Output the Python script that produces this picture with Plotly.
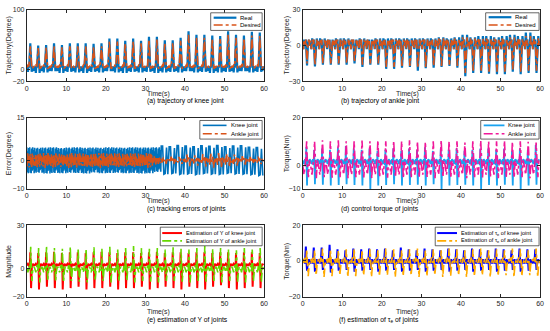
import plotly.graph_objects as go

W, H = 550, 331
N_CYC = 30
cycle_start = [2 * k for k in range(N_CYC)]

# ---------------- (a) knee trajectory ----------------
knee_real_peak = [44, 40, 41, 44, 41, 44, 44, 44, 43, 44, 52, 52, 48, 52, 48,
                  55, 55, 49, 49, 53, 64, 58, 58, 57, 56, 64, 58, 57, 63, 62]
knee_des_peak = [39, 36, 37, 39, 37, 39, 39, 39, 38, 39, 47, 47, 44, 47, 44,
                 50, 50, 45, 45, 48, 58, 53, 53, 52, 51, 58, 53, 52, 57, 56]
knee_real_low = [-4, -6, -5, -3, -6, -4, -5, -6, -4, -5, -3, -5, -6, -4, -5,
                 -4, -6, -5, -4, -5, -3, -5, -4, -6, -5, -4, -5, -3, -5, -4]
knee_real_phase = [0.0, 0.15, 0.3, 0.45, 0.6, 0.9, 1.25, 1.4, 1.55, 1.7, 1.85]
knee_real_shape = [-2, 5, 'L', 6, 3, 'P', 'L', 4, -3, 5, 0]
knee_des_phase = [0.0, 0.3, 0.55, 0.9, 1.3, 1.6, 1.85]
knee_des_shape = [3, 7, 5, 'P', 1, 4, 5]

# ---------------- (b) ankle trajectory ----------------
ankle_real_spike = [-16.7, -17.5, -16, -16, -16, -16, -15, -18, -16, -16,
                    -19.5, -19.5, -18.6, -18, -21, -19, -18.6, -18, -17, -18.6,
                    -25.8, -23, -23, -23.6, -24, -24, -22, -24, -23, -23]
ankle_des_spike = [-15, -16, -15, -15, -15, -15, -14, -16, -15, -15,
                   -18, -18, -17, -17, -19, -18, -17, -17, -16, -17,
                   -23, -21, -21, -22, -22, -22, -20, -22, -21, -21]
ankle_real_top = [5, 6, 6, 5, 6, 6, 5, 6, 5, 6, 6, 6, 6, 6, 6,
                  6, 6, 7, 6, 7, 9, 7, 8, 8, 7, 8, 9, 8, 11, 8]
ankle_des_top = [5, 5, 5, 5, 5, 5, 5, 5, 5, 5, 5, 5, 5, 5, 5,
                 5, 5, 6, 5, 6, 7, 6, 6, 6, 6, 6, 7, 6, 8, 6]
ankle_phase = [0.0, 0.2, 0.4, 0.6, 0.8, 1.1, 1.35, 1.55, 1.75, 1.9]
ankle_shape = [3, -3, 'T', 1, 5, 'S', 2, 'T', 0, 4]

# ---------------- (c) tracking errors ----------------
err_knee_hi = [4.6, 4.4, 4.5, 4.6, 4.3, 4.5, 4.6, 4.4, 4.5, 4.4, 4.6, 4.5, 4.4, 4.6, 4.5,
               4.5, 4.6, 5.0, 4.8, 5.2, 5.0, 4.8, 5.1, 4.9, 5.2, 4.8, 5.0, 5.1, 4.6, 4.5]
err_knee_lo = [-4.5, -4.3, -4.6, -4.4, -4.5, -4.3, -4.4, -4.6, -4.2, -4.5, -4.4, -4.3, -4.5, -4.4, -4.6,
               -4.5, -4.0, -4.8, -4.6, -4.9, -4.7, -5.0, -4.6, -4.8, -4.9, -4.5, -4.7, -4.8, -5.0, -5.3]
err_knee_pat_dense = [1.0, -0.9, 0.7, -1.0, 0.95, -0.6, 1.0, -0.95, 0.5, -1.0, 0.9, -0.8, 1.0, -0.7, 0.8, -1.0]
err_knee_pat_sparse = [1.0, 1.0, -1.0, -0.95, 0.9, -1.0]
err_ankle_amp = [2.5, 2.4, 2.6, 2.5, 2.3, 2.6, 2.5, 2.4, 2.5, 2.6, 2.4, 2.5, 2.3, 2.5, 2.4,
                 2.6, 1.4, 1.2, 1.3, 1.2, 2.0, 1.8, 2.2, 2.5, 2.6, 2.4, 2.0, 1.5, 1.2, 1.3]
err_ankle_pat_dense = [0.3, -0.8, 1.0, -0.4, 0.6, -1.0, 0.2, 0.9, -0.6, 0.5, -0.9, 1.0, -0.3, 0.7, -0.7, 0.4]
err_ankle_pat_sparse = [0.3, -0.6, 1.0, -0.2, 0.5, -1.0, 0.4, -0.3]

# ---------------- (d) control torque ----------------
tq_knee_up = [7.5, 6.5, 7, 6.5, 7.5, 8, 7, 6.5, 7, 6, 6.5, 7, 6, 7, 6.5,
              7.5, 6, 7, 6.5, 7, 6, 6.5, 7, 7, 6.5, 7, 6, 7, 6.5, 8.5]
tq_knee_dn = [-8.5, -8, -8.2, -8.5, -8.3, -8, -8.3, -8.5, -10, -8.5, -8.3, -8, -8.5, -8.3, -8.2,
              -8.5, -8, -10, -8.5, -8.3, -8.2, -8.5, -10, -8.3, -8.5, -8.2, -8.5, -10, -8.5, -8.2]
tq_ankle_up = [10, 10, 10.5, 10, 10.5, 10, 10, 10.3, 10, 10.5, 10, 10.2, 10, 10.5, 10,
               9.8, 10, 10.5, 10, 10, 9.5, 10, 10.3, 10, 10, 10.2, 9.8, 10, 9.8, 9.5]
tq_ankle_dn = [-5, -5.5, -5, -5.3, -5, -5.5, -5, -5.2, -5.5, -5, -5.3, -5, -5.5, -5, -5.2,
               -5, -5.5, -5, -5.3, -5, -5.5, -5, -5.2, -5, -5.5, -5, -5.3, -5, -5.5, -5]
tq_knee_phase = [0.0, 0.3, 0.6, 0.8, 0.9, 1.0, 1.1, 1.25, 1.5, 1.75]
tq_knee_shape = [2, 0.5, 2.5, 0, 'U', -1, 'D', 2, 1, 2.5]
tq_ankle_phase = [0.0, 0.35, 0.7, 0.85, 1.0, 1.2, 1.45, 1.7]
tq_ankle_shape = [0, -4, 1, 4, 'U', 0, 'D', 2]

# ---------------- (e) estimation of Y ----------------
y_knee_up = [11, 10.5, 11, 11.5, 10.5, 11, 11, 10.5, 11, 11.5, 11, 10.5, 11, 11, 10.5,
             11, 11.5, 10.5, 11, 11, 10.5, 11, 11, 10.5, 11, 11, 10.5, 11, 11, 10.5]
y_knee_dn = [-14, -15, -13, -14, -15, -14, -13, -15, -14, -14, -13, -15, -14, -14, -13,
             -15, -14, -13, -14, -15, -13, -14, -15, -13, -12, -14, -15, -14, -13, -14]
y_ankle_up = [15, 14, 15.5, 14, 13.5, 15, 14, 13.5, 14.5, 13.5, 15, 13, 14, 15.5, 14,
              13.5, 14, 13, 14.5, 13.5, 13, 14, 15.5, 13.5, 14, 13, 12.5, 14, 13, 14]
y_ankle_dn = [-9, -10, -9, -9.5, -10, -9, -9.5, -10, -9, -9, -10, -9.5, -9, -10, -9,
              -9.5, -10, -9, -9, -9.5, -10, -9, -9.5, -9, -10, -9, -9.5, -10, -9, -9.5]
y_knee_phase = [0.0, 0.3, 0.6, 0.8, 0.9, 1.0, 1.1, 1.3, 1.55, 1.8]
y_knee_shape = [2, 3, 1.5, 2, 'U', 0, 'D', 1, 3, 2]
y_ankle_phase = [0.0, 0.3, 0.6, 0.85, 1.0, 1.15, 1.3, 1.5, 1.75]
y_ankle_shape = [0, -3, 2, -2, 'U', 2, 'D', -2, 1]

# ---------------- (f) estimation of tau_e ----------------
te_knee_up = [8, 7.5, 7.5, 9, 6.5, 6, 7, 6.5, 7, 6.5, 7, 6, 7.5, 6.5, 6,
              7, 6.5, 6, 7, 6.5, 6, 7, 6.5, 6, 7, 6.5, 6, 7, 6.5, 6.5]
te_knee_dn = [-5.5, -6, -5, -6.5, -5.5, -5, -6, -5.5, -5, -6, -5.5, -5, -6, -5.5, -5,
              -6, -5.5, -5, -6, -5.5, -5, -6, -5.5, -5, -6, -5.5, -5, -6, -5.5, -5]
te_ankle_up = [6.5, 6, 7, 6.5, 6, 6.5, 7, 6, 6.5, 6, 7, 6.5, 6, 6.5, 7,
               6, 6.5, 6, 7, 6.5, 6, 6.5, 7, 6, 6.5, 6, 7, 6.5, 6, 7]
te_ankle_dn = [-8.5, -8, -9, -8.5, -8, -9, -8.5, -8, -9, -8.5, -8, -9, -8.5, -8, -9,
               -8.5, -8, -9, -8.5, -8, -9, -8.5, -8, -9, -8.5, -8, -9, -8.5, -8, -9]
te_knee_phase = [0.0, 0.3, 0.55, 0.8, 0.95, 1.1, 1.3, 1.55, 1.8]
te_knee_shape = [-1, 1, -1.5, 'U', 0, 'D', -1, 1, -1]
te_ankle_phase = [0.0, 0.3, 0.6, 0.85, 1.0, 1.2, 1.4, 1.65, 1.85]
te_ankle_shape = [1, -1, 2, -1, 'U', 0, 'D', -2, 0]


def build(phases, shape, keys):
    xs, ys = [], []
    for k, t0 in enumerate(cycle_start):
        for ph, v in zip(phases, shape):
            t = t0 + ph
            if t > 60:
                continue
            xs.append(t)
            ys.append(keys[v][k] if isinstance(v, str) else v)
    return xs, ys


def build_noise(pat_list, hi, lo):
    xs, ys = [], []
    for k, t0 in enumerate(cycle_start):
        pat = pat_list[k]
        step = 2.0 / len(pat)
        for i, m in enumerate(pat):
            xs.append(t0 + i * step)
            ys.append(m * hi[k] if m >= 0 else -m * lo[k])
    return xs, ys


FONT = "Liberation Sans, Arial, sans-serif"
TXT = "#262626"
fig = go.Figure()


def px(x):
    return x / W


def py(y):
    return 1 - y / H


x_dom = {0: [px(25), px(265)], 1: [px(304), px(544)]}
rows_px = [(6, 79), (116, 189), (226, 299)]
y_dom = [[py(b), py(t)] for t, b in rows_px]

panels = [
    dict(r=0, c=0, yr=[-20, 100], tv=[-20, 0, 100], yt="Trajectory(Degree)",
         cap="(a) trajectory of knee joint"),
    dict(r=0, c=1, yr=[-30, 30], tv=[-30, 0, 30], yt="Trajectory(Degree)",
         cap="(b) trajectory of ankle joint"),
    dict(r=1, c=0, yr=[-10, 15], tv=[-10, 0, 15], yt="Error(Degree)",
         cap="(c) tracking errors of joints"),
    dict(r=1, c=1, yr=[-10, 20], tv=[-10, 0, 20], yt="Torque(Nm)",
         cap="(d) control torque of joints"),
    dict(r=2, c=0, yr=[-20, 30], tv=[-20, 0, 30], yt="Magnitude",
         cap="(e) estimation of Y of joints"),
    dict(r=2, c=1, yr=[-20, 20], tv=[-20, 0, 20], yt="Torque(Nm)",
         cap="(f) estimation of τ<sub>e</sub> of joints"),
]

series = []
xa, ya = build(knee_real_phase, knee_real_shape, {'P': knee_real_peak, 'L': knee_real_low})
xb, yb = build(knee_des_phase, knee_des_shape, {'P': knee_des_peak})
series.append([(xa, ya, "Real", "#0072BD", 2.2, "solid"), (xb, yb, "Desired", "#D95319", 1.6, "dashdot")])

xa, ya = build(ankle_phase, ankle_shape, {'S': ankle_real_spike, 'T': ankle_real_top})
xb, yb = build(ankle_phase, ankle_shape, {'S': ankle_des_spike, 'T': ankle_des_top})
series.append([(xa, ya, "Real", "#0072BD", 2.2, "solid"), (xb, yb, "Desired", "#D95319", 1.6, "dashdot")])

knee_pats = [err_knee_pat_dense if t0 < 33 else err_knee_pat_sparse for t0 in cycle_start]
xa, ya = build_noise(knee_pats, err_knee_hi, err_knee_lo)
ankle_pats = [err_ankle_pat_dense if t0 < 33 else err_ankle_pat_sparse for t0 in cycle_start]
neg_amp = [-a for a in err_ankle_amp]
xb, yb = build_noise(ankle_pats, err_ankle_amp, neg_amp)
series.append([(xa, ya, "Knee joint", "#0072BD", 1.6, "solid"), (xb, yb, "Ankle joint", "#D95319", 1.6, "dashdot")])

xa, ya = build(tq_knee_phase, tq_knee_shape, {'U': tq_knee_up, 'D': tq_knee_dn})
xb, yb = build(tq_ankle_phase, tq_ankle_shape, {'U': tq_ankle_up, 'D': tq_ankle_dn})
series.append([(xa, ya, "Knee joint", "#1AA3F0", 1.8, "solid"), (xb, yb, "Ankle joint", "#F0189A", 1.6, "dashdot")])

xa, ya = build(y_knee_phase, y_knee_shape, {'U': y_knee_up, 'D': y_knee_dn})
xb, yb = build(y_ankle_phase, y_ankle_shape, {'U': y_ankle_up, 'D': y_ankle_dn})
series.append([(xa, ya, "Estimation of Y of knee joint", "#FF0000", 2.0, "solid"),
               (xb, yb, "Estimation of Y of ankle joint", "#66D900", 1.6, "dashdot")])

xa, ya = build(te_knee_phase, te_knee_shape, {'U': te_knee_up, 'D': te_knee_dn})
xb, yb = build(te_ankle_phase, te_ankle_shape, {'U': te_ankle_up, 'D': te_ankle_dn})
series.append([(xa, ya, "Estimation of τ<sub>e</sub> of knee joint", "#0000FF", 2.0, "solid"),
               (xb, yb, "Estimation of τ<sub>e</sub> of ankle joint", "#FFAA00", 1.6, "dashdot")])

# legend boxes (pixel layout): box x0,y0,x1,y1 ; sample x0,x1 ; text x ; row ys ; font size
legend_layout = [
    ((211, 9, 263, 27), (214, 237), 239, (14, 21.5), 6),
    ((489, 9, 543, 27), (492, 515), 517, (13.5, 21.5), 6),
    ((200, 119, 263, 138), (203, 227), 229, (124, 132.5), 6),
    ((484, 119, 543, 138), (487, 508), 510, (124, 132.5), 6),
    ((160, 228, 263, 247), (162, 182), 184, (234, 242), 5.6),
    ((438, 228, 543, 247), (440, 460), 462, (234, 242), 5.6),
]

annotations = []
shapes = []
layout_axes = {}
for i, p in enumerate(panels):
    n = i + 1
    xn = "x" if n == 1 else f"x{n}"
    yn = "y" if n == 1 else f"y{n}"
    for (sx, sy, name, col, w, dash) in series[i]:
        fig.add_trace(go.Scatter(x=sx, y=sy, mode="lines", name=name, xaxis=xn, yaxis=yn,
                                 showlegend=False, hoverinfo="skip",
                                 line=dict(color=col, width=w, dash=dash)))
    common = dict(showline=True, linecolor=TXT, linewidth=0.8, mirror="ticks", ticks="inside",
                  ticklen=3, tickcolor=TXT, showgrid=False, zeroline=False,
                  tickfont=dict(family=FONT, size=7, color=TXT))
    layout_axes["xaxis" if n == 1 else f"xaxis{n}"] = dict(
        domain=x_dom[p["c"]], range=[0, 60], tickvals=[0, 10, 20, 30, 40, 50, 60],
        anchor=yn, **common)
    layout_axes["yaxis" if n == 1 else f"yaxis{n}"] = dict(
        domain=y_dom[p["r"]], range=p["yr"], tickvals=p["tv"], anchor=xn, **common)

    # legend drawn as a MATLAB-style box
    (bx0, by0, bx1, by1), (sx0, sx1), tx, rys, fs = legend_layout[i]
    shapes.append(dict(type="rect", xref="paper", yref="paper", x0=px(bx0), x1=px(bx1),
                       y0=py(by1), y1=py(by0), fillcolor="white",
                       line=dict(color=TXT, width=0.7), layer="above"))
    for (sx, sy, name, col, w, dash), ry in zip(series[i], rys):
        shapes.append(dict(type="line", xref="paper", yref="paper", x0=px(sx0), x1=px(sx1),
                           y0=py(ry), y1=py(ry), line=dict(color=col, width=w, dash=dash),
                           layer="above"))
        annotations.append(dict(text=name, x=px(tx), y=py(ry), xref="paper", yref="paper",
                                xanchor="left", yanchor="middle", showarrow=False,
                                font=dict(family=FONT, size=fs, color="black")))

    top_px, bot_px = rows_px[p["r"]]
    xl, xr = x_dom[p["c"]]
    xc = (xl + xr) / 2
    off_t, off_c = (12.5, 20.5) if p["r"] < 2 else (15.5, 24)
    annotations.append(dict(text="Time(s)", x=xc, y=py(bot_px + off_t), xref="paper", yref="paper",
                            yanchor="middle", showarrow=False,
                            font=dict(family=FONT, size=6.8, color=TXT)))
    annotations.append(dict(text=p["cap"], x=xc, y=py(bot_px + off_c), xref="paper", yref="paper",
                            yanchor="middle", showarrow=False,
                            font=dict(family=FONT, size=6.8, color="black")))
    ytx = 7 if p["c"] == 0 else 288
    annotations.append(dict(text=p["yt"], x=px(ytx), y=py((top_px + bot_px) / 2),
                            xref="paper", yref="paper", textangle=-90, showarrow=False,
                            xanchor="center", yanchor="middle",
                            font=dict(family=FONT, size=7, color=TXT)))

fig.update_layout(width=W, height=H, margin=dict(l=0, r=0, t=0, b=0),
                  paper_bgcolor="white", plot_bgcolor="white", showlegend=False,
                  annotations=annotations, shapes=shapes, **layout_axes)
fig.write_html("out.html", config={"displayModeBar": False},
               post_script="document.body.style.margin='0';")
